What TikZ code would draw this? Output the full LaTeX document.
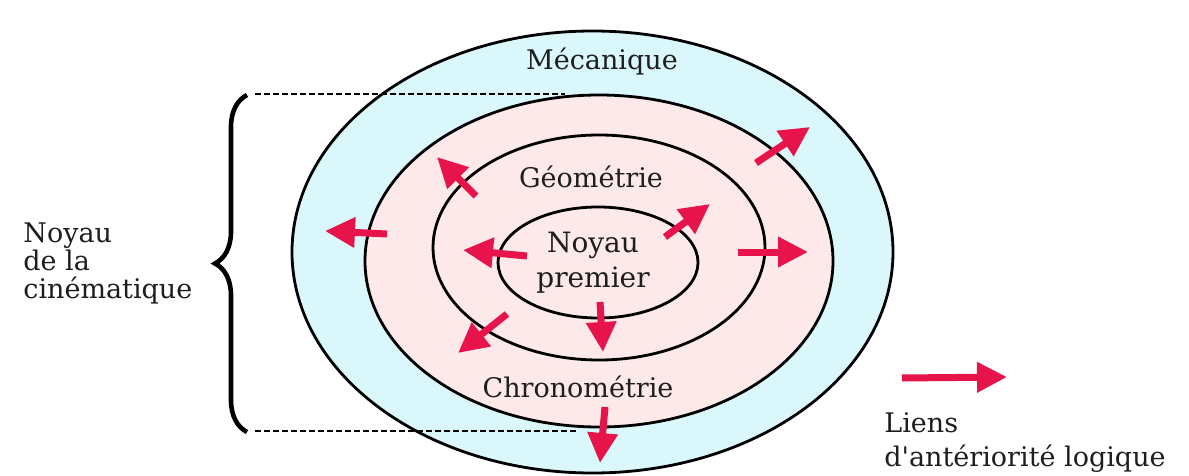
\documentclass[tikz,border=0pt]{standalone}
\usepackage{fontspec}
\setmainfont{DejaVu Serif}
\usetikzlibrary{shapes.geometric,arrows.meta,decorations.pathreplacing}
\definecolor{mecblue}{RGB}{218,247,252}
\definecolor{cinepink}{RGB}{253,232,234}
\definecolor{linkred}{RGB}{230,20,75}
\definecolor{txt}{RGB}{30,30,30}
\begin{document}
\begin{tikzpicture}[x=0.5pt,y=-0.5pt,
  ring/.style={ellipse, draw=black, line width=1.4pt, inner sep=0pt},
  lbl/.style={text=txt, inner sep=0pt, font=\fontsize{13.5pt}{14pt}\selectfont},
  link/.style={draw=linkred, line width=3.5pt, -{Triangle[length=15pt,width=14.5pt]}},
  guide/.style={draw=black, line width=0.8pt, dash pattern=on 3pt off 1.5pt},
  bracestyle/.style={draw=black, line width=2.3pt, decorate, decoration={brace, amplitude=16pt}}]
\useasboundingbox (0,0) rectangle (1189,476);
% nested domains
\node[ring, fill=mecblue, minimum width=300.5pt, minimum height=221pt] (mec) at (592.5,252) {};
\node[ring, fill=cinepink, minimum width=234pt, minimum height=166pt] (cine) at (599,261) {};
\node[ring, fill=cinepink, minimum width=166pt, minimum height=112.5pt] (geo) at (599,247.5) {};
\node[ring, fill=cinepink, minimum width=100pt, minimum height=55.5pt] (core) at (598,262.5) {};
% brace and guides
\coordinate (bracetop) at (247,95);
\coordinate (bracebot) at (247,432);
\coordinate (guidetop) at (565,94);
\coordinate (guidebot) at (578,431);
\draw[bracestyle] (bracebot) -- (bracetop);
\draw[guide] (255,94) -- (guidetop);
\draw[guide] (255,431) -- (guidebot);
% logical precedence links
\draw[link] (387,234) -- (325,231);
\draw[link] (738,252) -- (808,252);
\draw[link] (600,302) -- (603,352);
\draw[link] (605,407) -- (600,463);
\draw[link] (476,196) -- (437,157);
\draw[link] (756,163) -- (810,127);
\draw[link] (665,237) -- (710,204);
\draw[link] (527,256) -- (463,250);
\draw[link] (507,314) -- (458,353);
% legend arrow
\coordinate (legtail) at (902,378);
\coordinate (leghead) at (1007,377);
\draw[link] (legtail) -- (leghead);
% labels
\node[lbl, anchor=base] (tmec) at (602,70) {Mécanique};
\node[lbl, anchor=base] (tgeo) at (591,187) {Géométrie};
\node[lbl, anchor=base] (tchrono) at (578,397) {Chronométrie};
\node[lbl, align=center, font=\fontsize{14pt}{17.5pt}\selectfont] (tcore) at (593,262.8) {Noyau\\premier};
\node[lbl, align=left, anchor=west] (tcine) at (23,263.3) {Noyau\\de la\\cinématique};
\node[lbl, align=left, anchor=west, font=\fontsize{13.5pt}{17pt}\selectfont] (tleg) at (884,443) {Liens\\d\textquotesingle antériorité logique};
\end{tikzpicture}
\end{document}
